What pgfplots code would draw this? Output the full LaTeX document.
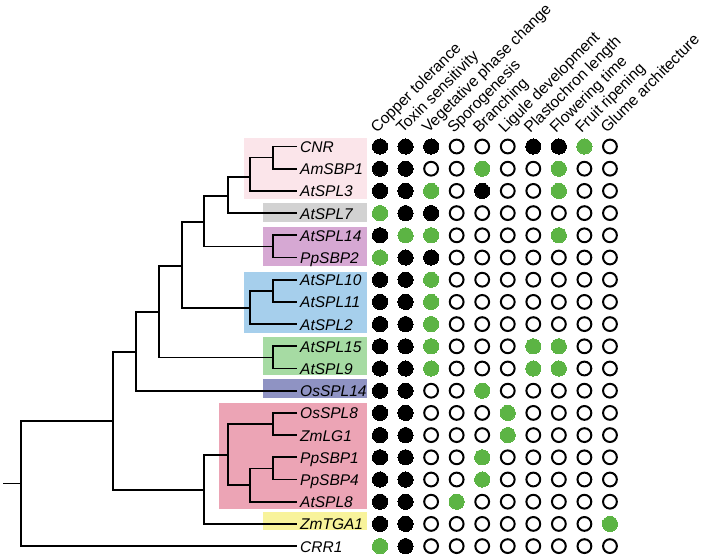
\documentclass[border=0pt]{standalone}
\usepackage{pgfplots}
\pgfplotsset{compat=1.18}
\usepackage{fontspec}
\setmainfont{Liberation Sans}
\definecolor{gr}{RGB}{92,180,68}
\definecolor{bpink}{RGB}{251,229,234}
\definecolor{bgray}{RGB}{210,210,210}
\definecolor{bpurple}{RGB}{214,168,211}
\definecolor{bblue}{RGB}{166,207,236}
\definecolor{bgreen}{RGB}{166,219,163}
\definecolor{bdark}{RGB}{143,147,195}
\definecolor{bpinktwo}{RGB}{236,164,181}
\definecolor{byellow}{RGB}{248,243,155}
\tikzset{
  tr/.style={black, line width=1.7pt, line join=miter},
  bx/.style={draw=none},
  gl/.style={anchor=base west, inner sep=0pt, font=\fontsize{15.5}{18}\selectfont\itshape},
  cl/.style={anchor=base west, inner sep=0pt, rotate=45, font=\fontsize{15.6}{18}\selectfont}}
\begin{document}
\begin{tikzpicture}
\begin{axis}[name=ax, scale only axis, width=708pt, height=558pt,
  xmin=0, xmax=708, ymin=0, ymax=558, y dir=reverse,
  axis lines=none, clip=false]
% boxes
\addplot[bx, no marks, fill=bpink] coordinates {(244,138) (367,138) (367,199) (244,199)};
\addplot[bx, no marks, fill=bgray] coordinates {(263,203) (367,203) (367,222) (263,222)};
\addplot[bx, no marks, fill=bpurple] coordinates {(263,227) (367,227) (367,266) (263,266)};
\addplot[bx, no marks, fill=bblue] coordinates {(244,271.5) (367,271.5) (367,333) (244,333)};
\addplot[bx, no marks, fill=bgreen] coordinates {(263,337) (367,337) (367,375) (263,375)};
\addplot[bx, no marks, fill=bdark] coordinates {(263,379) (367,379) (367,398) (263,398)};
\addplot[bx, no marks, fill=bpinktwo] coordinates {(219,403) (367,403) (367,509) (219,509)};
\addplot[bx, no marks, fill=byellow] coordinates {(263,512) (367,512) (367,530) (263,530)};
% tree
\addplot[tr, no marks] coordinates {(3,483.5) (21,483.5)};
\addplot[tr, no marks] coordinates {(113,421) (21,421) (21,546.1) (297,546.1)};
\addplot[tr, no marks] coordinates {(136,351.7) (113,351.7) (113,490) (204,490)};
\addplot[tr, no marks] coordinates {(228,455) (204,455) (204,523.9) (297,523.9)};
\addplot[tr, no marks] coordinates {(273,424) (228,424) (228,485) (250,485)};
\addplot[tr, no marks] coordinates {(297,412.9) (273,412.9) (273,435.1) (297,435.1)};
\addplot[tr, no marks] coordinates {(273,468.4) (250,468.4) (250,501.7) (297,501.7)};
\addplot[tr, no marks] coordinates {(297,457.3) (273,457.3) (273,479.5) (297,479.5)};
\addplot[tr, no marks] coordinates {(159,312) (136,312) (136,390.7) (297,390.7)};
\addplot[tr, no marks] coordinates {(182,265.7) (159,265.7) (159,357.4) (273,357.4)};
\addplot[tr, no marks] coordinates {(297,346.3) (273,346.3) (273,368.5) (297,368.5)};
\addplot[tr, no marks] coordinates {(204,221.7) (182,221.7) (182,308) (250,308)};
\addplot[tr, no marks] coordinates {(273,290.8) (250,290.8) (250,324.1) (297,324.1)};
\addplot[tr, no marks] coordinates {(297,279.7) (273,279.7) (273,301.9) (297,301.9)};
\addplot[tr, no marks] coordinates {(228,195.7) (204,195.7) (204,246.4) (273,246.4)};
\addplot[tr, no marks] coordinates {(297,235.3) (273,235.3) (273,257.5) (297,257.5)};
\addplot[tr, no marks] coordinates {(250,176.7) (228,176.7) (228,213.1) (297,213.1)};
\addplot[tr, no marks] coordinates {(273,157.6) (250,157.6) (250,190.9) (297,190.9)};
\addplot[tr, no marks] coordinates {(297,146.5) (273,146.5) (273,168.7) (297,168.7)};
% gene labels
\node[gl] at (axis cs:300,152.5) {CNR};
\node[gl] at (axis cs:300,174.7) {AmSBP1};
\node[gl] at (axis cs:300,196.9) {AtSPL3};
\node[gl] at (axis cs:300,219.1) {AtSPL7};
\node[gl] at (axis cs:300,241.3) {AtSPL14};
\node[gl] at (axis cs:300,263.5) {PpSBP2};
\node[gl] at (axis cs:300,285.7) {AtSPL10};
\node[gl] at (axis cs:300,307.9) {AtSPL11};
\node[gl] at (axis cs:300,330.1) {AtSPL2};
\node[gl] at (axis cs:300,352.3) {AtSPL15};
\node[gl] at (axis cs:300,374.5) {AtSPL9};
\node[gl] at (axis cs:300,396.7) {OsSPL14};
\node[gl] at (axis cs:300,418.9) {OsSPL8};
\node[gl] at (axis cs:300,441.1) {ZmLG1};
\node[gl] at (axis cs:300,463.3) {PpSBP1};
\node[gl] at (axis cs:300,485.5) {PpSBP4};
\node[gl] at (axis cs:300,507.7) {AtSPL8};
\node[gl] at (axis cs:300,529.9) {ZmTGA1};
\node[gl] at (axis cs:300,552.1) {CRR1};
% column labels
\node[cl] at (axis cs:377,134) {Copper tolerance};
\node[cl] at (axis cs:402.55,134) {Toxin sensitivity};
\node[cl] at (axis cs:428.1,134) {Vegetative phase change};
\node[cl] at (axis cs:453.65,134) {Sporogenesis};
\node[cl] at (axis cs:479.2,134) {Branching};
\node[cl] at (axis cs:504.75,134) {Ligule development};
\node[cl] at (axis cs:530.3,134) {Plastochron length};
\node[cl] at (axis cs:555.85,134) {Flowering time};
\node[cl] at (axis cs:581.4,134) {Fruit ripening};
\node[cl] at (axis cs:606.95,134) {Glume architecture};
% matrix: black
\addplot[only marks, mark=*, mark size=7.6pt, mark options={fill=black, draw=black, line width=0pt}]
 table[row sep=\\, x expr=380+25.55*\thisrow{c}, y expr=146.5+22.2*\thisrow{r}] {
c r\\ 0 0\\ 1 0\\ 2 0\\ 6 0\\ 7 0\\ 0 1\\ 1 1\\ 0 2\\ 1 2\\ 4 2\\ 1 3\\ 2 3\\ 0 4\\ 1 5\\ 2 5\\
0 6\\ 1 6\\ 0 7\\ 1 7\\ 0 8\\ 1 8\\ 0 9\\ 1 9\\ 0 10\\ 1 10\\ 0 11\\ 1 11\\ 0 12\\ 1 12\\
0 13\\ 1 13\\ 0 14\\ 1 14\\ 0 15\\ 1 15\\ 0 16\\ 1 16\\ 0 17\\ 1 17\\ 1 18\\
};
% green
\addplot[only marks, mark=*, mark size=7.6pt, mark options={fill=gr, draw=gr, line width=0pt}]
 table[row sep=\\, x expr=380+25.55*\thisrow{c}, y expr=146.5+22.2*\thisrow{r}] {
c r\\ 8 0\\ 4 1\\ 7 1\\ 2 2\\ 7 2\\ 0 3\\ 1 4\\ 2 4\\ 7 4\\ 0 5\\ 2 6\\ 2 7\\ 2 8\\
2 9\\ 6 9\\ 7 9\\ 2 10\\ 6 10\\ 7 10\\ 4 11\\ 5 12\\ 5 13\\ 4 14\\ 4 15\\ 3 16\\ 9 17\\ 0 18\\
};
% open
\addplot[only marks, mark=o, mark size=6.9pt, mark options={draw=black, line width=2pt}]
 table[row sep=\\, x expr=380+25.55*\thisrow{c}, y expr=146.5+22.2*\thisrow{r}] {
c r\\ 3 0\\ 4 0\\ 5 0\\ 9 0\\
2 1\\ 3 1\\ 5 1\\ 6 1\\ 8 1\\ 9 1\\
3 2\\ 5 2\\ 6 2\\ 8 2\\ 9 2\\
3 3\\ 4 3\\ 5 3\\ 6 3\\ 7 3\\ 8 3\\ 9 3\\
3 4\\ 4 4\\ 5 4\\ 6 4\\ 8 4\\ 9 4\\
3 5\\ 4 5\\ 5 5\\ 6 5\\ 7 5\\ 8 5\\ 9 5\\
3 6\\ 4 6\\ 5 6\\ 6 6\\ 7 6\\ 8 6\\ 9 6\\
3 7\\ 4 7\\ 5 7\\ 6 7\\ 7 7\\ 8 7\\ 9 7\\
3 8\\ 4 8\\ 5 8\\ 6 8\\ 7 8\\ 8 8\\ 9 8\\
3 9\\ 4 9\\ 5 9\\ 8 9\\ 9 9\\
3 10\\ 4 10\\ 5 10\\ 8 10\\ 9 10\\
2 11\\ 3 11\\ 5 11\\ 6 11\\ 7 11\\ 8 11\\ 9 11\\
2 12\\ 3 12\\ 4 12\\ 6 12\\ 7 12\\ 8 12\\ 9 12\\
2 13\\ 3 13\\ 4 13\\ 6 13\\ 7 13\\ 8 13\\ 9 13\\
2 14\\ 3 14\\ 5 14\\ 6 14\\ 7 14\\ 8 14\\ 9 14\\
2 15\\ 3 15\\ 5 15\\ 6 15\\ 7 15\\ 8 15\\ 9 15\\
2 16\\ 4 16\\ 5 16\\ 6 16\\ 7 16\\ 8 16\\ 9 16\\
2 17\\ 3 17\\ 4 17\\ 5 17\\ 6 17\\ 7 17\\ 8 17\\
2 18\\ 3 18\\ 4 18\\ 5 18\\ 6 18\\ 7 18\\ 8 18\\ 9 18\\
};
\end{axis}
\pgfresetboundingbox
\path[use as bounding box] (ax.south west) rectangle (ax.north east);
\end{tikzpicture}
\end{document}
